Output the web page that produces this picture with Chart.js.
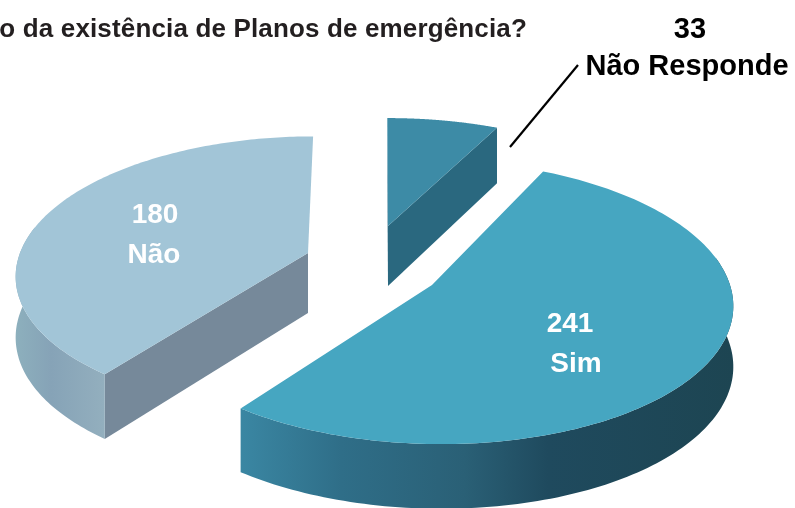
<!DOCTYPE html>
<html><head><meta charset="utf-8">
<style>html,body{margin:0;padding:0;background:#fff}#w{width:795px;height:508px}</style>
<script src="https://cdn.jsdelivr.net/npm/chart.js@4"></script></head>
<body><div id="w"><canvas id="c" width="795" height="508"></canvas></div>
<script>
const categories = ['Sim', 'Não', 'Não Responde'];
const values = [241, 180, 33];
const titleText = 'o da existência de Planos de emergência?';

// projection & style settings (one entry per slice)
const anchors = [[432,285],[308,253],[388,226]];
const skews = [0.06,-0.05,0];
const radiiX = [298,288,282];
const radiiY = [140,134,124];
const tilts = [0.12,0.149,0.149];
const topColors = ['#46a6c1','#a2c5d7','#3d8ba6'];
const radialColors = ['#2f7a95','#76899a','#2a687f'];
const DEPTH=60;
const ROTATION=26;

function project(i,theta,r,drop){
  const K=tilts[i];
  const X=r*Math.sin(theta), Y=r*Math.cos(theta), d=1+K*Y;
  const yy=-radiiY[i]*Y/d;
  return [anchors[i][0]+radiiX[i]*X/d+skews[i]*yy, anchors[i][1]+yy+(drop?DEPTH/(1+K*Y*0.6):0)];
}
function wallFill(ctx,i){
  let g;
  if(i===0){ g=ctx.createLinearGradient(243,0,735,0);
    g.addColorStop(0,'#3a86a2'); g.addColorStop(.2,'#2f6e88'); g.addColorStop(.45,'#2a6076');
    g.addColorStop(.62,'#1f4a5e'); g.addColorStop(1,'#1d4552');
  } else if(i===1){ g=ctx.createLinearGradient(15,0,105,0);
    g.addColorStop(0,'#8db0bd'); g.addColorStop(.4,'#86a3b7'); g.addColorStop(1,'#93afbe');
  } else { g='#2a687f'; }
  return g;
}
const pie3d={id:'pie3d',
  beforeDatasetDraw(chart){
    const ctx=chart.ctx, arcs=chart.getDatasetMeta(0).data;
    [2,1,0].forEach(i=>{
      const a=arcs[i], s=a.startAngle+Math.PI/2, e=a.endAngle+Math.PI/2, N=160;
      const pts=[],wt=[],wb=[];
      for(let n=0;n<=N;n++){const t=s+(e-s)*n/N; pts.push(project(i,t,1,false));
        if(Math.cos(t)<0.2){wt.push(project(i,t,1,false)); wb.push(project(i,t,1,true));}}
      const ap=project(i,0,0,false), apl=project(i,0,0,true);
      const poly=(p)=>{ctx.beginPath();p.forEach((q,n)=>n?ctx.lineTo(q[0],q[1]):ctx.moveTo(q[0],q[1]));ctx.closePath();};
      ctx.save();
      ctx.fillStyle=radialColors[i];
      if(i===1){poly([ap,pts[0],project(i,s,1,true),apl]);ctx.fill();}
      if(i===2){poly([ap,pts[N],project(i,e,1,true),apl]);ctx.fill();
                poly([ap,pts[0],project(i,s,1,true),apl]);ctx.fill();}
      if(wt.length){ctx.fillStyle=wallFill(ctx,i);poly(wt.concat(wb.slice().reverse()));ctx.fill();}
      ctx.fillStyle=topColors[i];
      poly([ap].concat(pts));ctx.fill();
      ctx.restore();
    });
    return false;
  },
  afterDraw(chart){
    const ctx=chart.ctx;
    ctx.save();
    ctx.strokeStyle='#000';ctx.lineWidth=2.2;ctx.beginPath();ctx.moveTo(578,65);ctx.lineTo(510,147);ctx.stroke();
    ctx.textBaseline='alphabetic';
    ctx.fillStyle='#231f20';ctx.textAlign='right';ctx.font='bold 26px "Liberation Sans"';ctx.letterSpacing='0.15px';
    ctx.fillText(titleText,527,37);
    ctx.letterSpacing='0px';
    ctx.textAlign='center';ctx.fillStyle='#000';
    ctx.font='bold 29px "Liberation Sans"';ctx.fillText(String(values[2]),690,38);
    ctx.fillText(categories[2],687,75);
    ctx.fillStyle='#fff';ctx.font='bold 28px "Liberation Sans"';
    ctx.fillText(String(values[1]),155,223);ctx.fillText(categories[1],154,263);
    ctx.fillText(String(values[0]),570,332);ctx.fillText(categories[0],576,372);
    ctx.restore();
  }
};
new Chart(document.getElementById('c'),{
  type:'pie',
  data:{labels:categories,datasets:[{data:values,backgroundColor:topColors,borderWidth:0}]},
  options:{responsive:false,animation:false,rotation:ROTATION,
    plugins:{legend:{display:false},tooltip:{enabled:false}}},
  plugins:[pie3d]
});
</script></body></html>
